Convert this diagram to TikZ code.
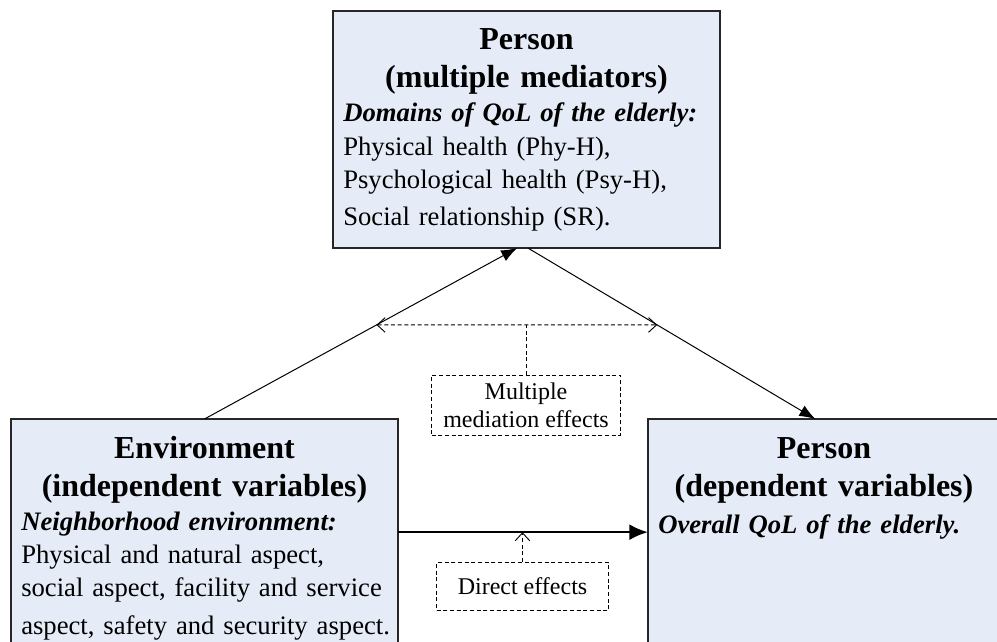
\documentclass[tikz,border=0pt]{standalone}
\usepackage{fontspec}
\setmainfont{Liberation Serif}
\usetikzlibrary{arrows.meta}
\definecolor{boxfill}{RGB}{230,236,247}
\tikzset{
  box/.style={draw=black!85, line width=0.9pt, fill=boxfill, inner sep=0pt, outer sep=0pt, anchor=north west},
  title/.style={align=center, text width=290pt, inner sep=0pt, anchor=base, font=\fontsize{24}{28.5}\selectfont\bfseries},
  body/.style={align=left, text width=300pt, inner sep=0pt, anchor=base west, font=\fontsize{20}{25}\selectfont},
  note/.style={draw, densely dashed, line width=0.7pt, align=center, font=\fontsize{18}{21}\selectfont},
  link/.style={line width=0.75pt, -{Latex[length=12pt,width=9pt]}},
  direct/.style={line width=1.8pt, -{Latex[length=14pt,width=12pt]}},
  hint/.style={densely dashed, line width=0.7pt},
  barb/.tip={Straight Barb[length=6pt,width=11pt]}
}
\begin{document}
\begin{tikzpicture}[x=0.75pt,y=-0.75pt]
\useasboundingbox (0,0) rectangle (997,642);
\clip (0,0) rectangle (997,642);
\node[box, minimum width=290.25pt, minimum height=177.75pt] (med) at (333,11) {};
\node[box, minimum width=290.25pt, minimum height=195.75pt] (env) at (11,419) {};
\node[box, minimum width=275pt, minimum height=195.75pt] (dep) at (648,419) {};
\node[title] (medT) at (526.5,50) {Person\\(multiple mediators)};
\node[body] (medB) at (343,122) {\textbf{\textit{Domains of QoL of the elderly:}}\\Physical health (Phy-H),\\Psychological health (Psy-H),\\[3pt]Social relationship (SR).};
\node[title] (envT) at (204.5,458) {Environment\\(independent variables)};
\node[body] (envB) at (21,530) {\textbf{\textit{Neighborhood environment:}}\\Physical and natural aspect,\\social aspect, facility and service\\[3pt]aspect, safety and security aspect.};
\node[title] (depT) at (824,458) {Person\\(dependent variables)};
\node[body] (depB) at (658,533) {\textbf{\textit{Overall QoL of the elderly.}}};
\node[note, minimum width=141.75pt, minimum height=45pt] (mult) at (526,405) {Multiple\\mediation effects};
\node[note, minimum width=129pt, minimum height=36pt] (dir) at (522.5,586.5) {Direct effects};
\draw[link] (env.north) -- coordinate[pos=0.55] (ma) ([xshift=-7pt]med.south);
\draw[link] ([xshift=1pt]med.south) -- coordinate[pos=0.45] (mb) ([xshift=-12pt]dep.north);
\draw[direct] ([yshift=13pt]env.east) -- coordinate[pos=0.5] (dm) ([yshift=13pt]dep.west);
\draw[hint, barb-barb] (ma) -- (mb);
\draw[hint] (mult.north) -- (mult.north |- ma);
\draw[hint, -barb] (dir.north) -- (dir.north |- dm);
\end{tikzpicture}
\end{document}
